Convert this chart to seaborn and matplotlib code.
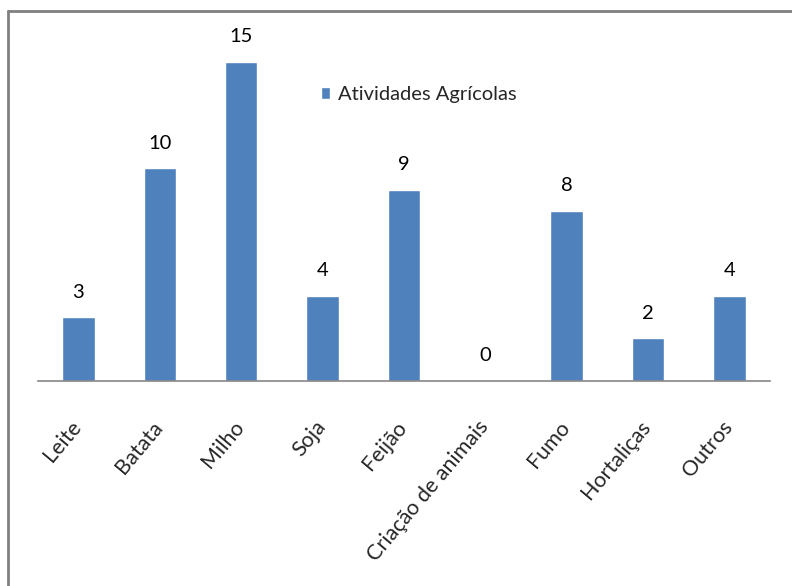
import matplotlib
matplotlib.use("Agg")
import matplotlib.pyplot as plt
import matplotlib.transforms as mtransforms
import seaborn as sns
from matplotlib.lines import Line2D
from matplotlib.patches import Patch

# Data
atividades = ["Leite", "Batata", "Milho", "Soja", "Feijão",
              "Criação de animais", "Fumo", "Hortaliças", "Outros"]
valores = [3, 10, 15, 4, 9, 0, 8, 2, 4]

sns.set_style("white")
plt.rcParams['font.family'] = ['Lato', 'DejaVu Sans']

fig = plt.figure(figsize=(7.92, 5.86), dpi=100)
ax = fig.add_axes([0.0477, 0.3498, 0.9245, 0.5807])

sns.barplot(x=atividades, y=valores, color="#4F81BD", width=0.4,
            saturation=1, ax=ax)
ax.set_ylim(0, 16)
ax.set_xlim(-0.5, len(atividades) - 0.5)

# value labels
ax.bar_label(ax.containers[0], labels=[str(v) for v in valores],
             padding=12, fontsize=14.5, color="black")

# axes styling
for s in ["top", "right", "left"]:
    ax.spines[s].set_visible(False)
ax.spines["bottom"].set_color("#868686")
ax.spines["bottom"].set_linewidth(1.2)
ax.set_yticks([])
ax.tick_params(axis="x", length=0, pad=26)
shift = mtransforms.ScaledTranslation(-6 / 72, 0, fig.dpi_scale_trans)
for lbl in ax.get_xticklabels():
    lbl.set_rotation(50)
    lbl.set_ha("right")
    lbl.set_rotation_mode("anchor")
    lbl.set_fontsize(15.5)
    lbl.set_transform(lbl.get_transform() + shift)

# legend
handle = Patch(facecolor="#4F81BD", label="Atividades Agrícolas")
ax.legend(handles=[handle], loc="upper left", bbox_to_anchor=(0.362, 0.92),
          frameon=False, fontsize=14.5, handlelength=0.45, handleheight=0.6,
          handletextpad=0.4)

# outer border (top and left only, as in the picture)
fig.add_artist(Line2D([0.0101, 1.0], [0.9812, 0.9812], color="#808080",
                      linewidth=2, transform=fig.transFigure))
fig.add_artist(Line2D([0.0101, 0.0101], [0.0, 0.9812], color="#808080",
                      linewidth=2, transform=fig.transFigure))

fig.savefig("out.png", dpi=100)
